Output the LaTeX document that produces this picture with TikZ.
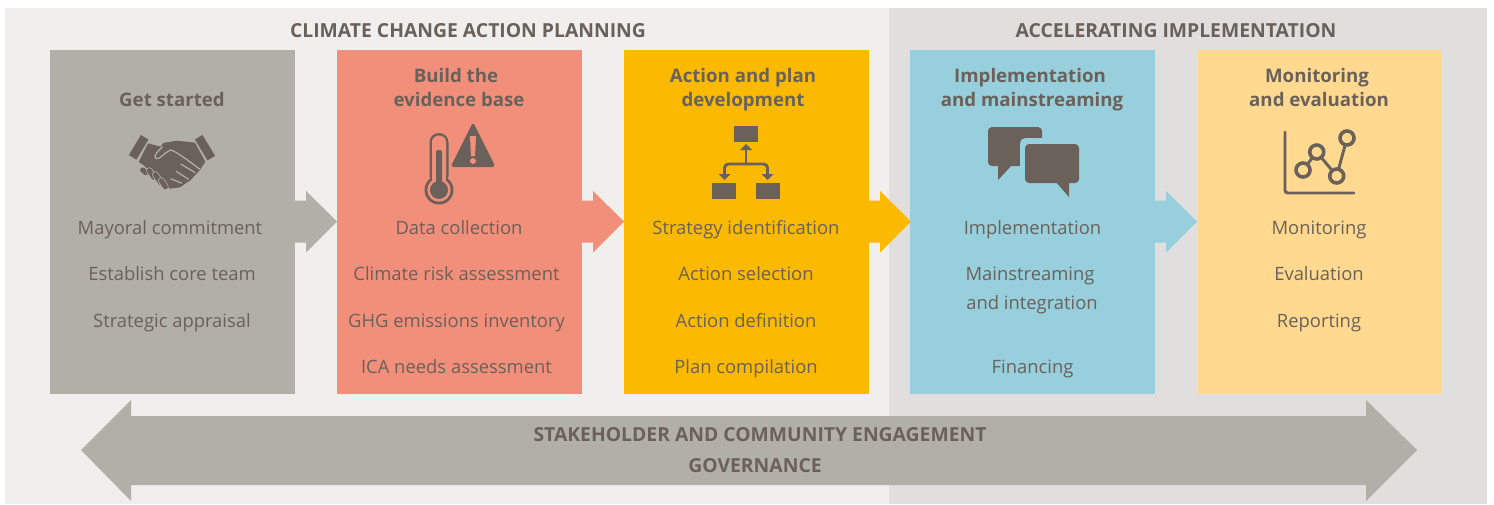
\documentclass[tikz,border=0pt]{standalone}
\usepackage{fontspec}
\setmainfont{Open Sans}
\definecolor{panelL}{HTML}{F0EFED}
\definecolor{panelR}{HTML}{E0DFDD}
\definecolor{ink}{HTML}{6A615A}
\definecolor{stone}{HTML}{B2AFA8}
\definecolor{salmon}{HTML}{F28F7B}
\definecolor{amber}{HTML}{FBB900}
\definecolor{sky}{HTML}{98CFDD}
\definecolor{sand}{HTML}{FFD98F}
\tikzset{
 px/.style={x=0.75pt,y=-0.75pt},
 headtext/.style={text=ink,font=\fontsize{14}{18}\selectfont\bfseries,align=center,inner sep=0pt,anchor=base},
 banner/.style={text=ink,font=\fontsize{14.5}{22.5}\selectfont\bfseries,align=center,inner sep=0pt,anchor=base},
 item/.style={text=ink,font=\fontsize{13.8}{16}\selectfont,align=center,inner sep=0pt,anchor=base},
 icon/.style={fill=ink,draw=none},
 iconline/.style={draw=ink,line width=2.2pt,fill=none}
}
\newcommand{\stagearrow}[2]{\fill[#2] (#1,200.5) -- (#1+11,200.5) -- (#1+11,191) -- (#1+42,221.5) -- (#1+11,252.5) -- (#1+11,242.5) -- (#1,242.5) -- cycle;}
\begin{document}
\begin{tikzpicture}[px]
\useasboundingbox (0,0) rectangle (1494,504);
\fill[panelL] (5,8) rectangle (889,504);
\fill[panelR] (889,8) rectangle (1487,504);
% stage arrows
\stagearrow{295}{stone}
\stagearrow{582}{salmon}
\stagearrow{869}{amber}
\stagearrow{1155}{sky}
% boxes
\fill[stone] (50,50) rectangle (295,394);
\fill[salmon] (337,50) rectangle (582,394);
\fill[amber] (624,50) rectangle (869,394);
\fill[sky] (910,50) rectangle (1155,394);
\fill[sand] (1198,50) rectangle (1442,394);
% banners
\node[banner] (t1) at (468,37) {CLIMATE CHANGE ACTION PLANNING};
\node[banner] (t2) at (1176,37) {ACCELERATING IMPLEMENTATION};
% headings
\node[headtext] (h1) at (172,106) {Get started};
\node[headtext] (h2a) at (456,82) {Build the};
\node[headtext] (h2b) at (459,106) {evidence base};
\node[headtext] (h3a) at (743,82) {Action and plan};
\node[headtext] (h3b) at (743,106) {development};
\node[headtext] (h4a) at (1030,82) {Implementation};
\node[headtext] (h4b) at (1032,106) {and mainstreaming};
\node[headtext] (h5a) at (1317,82) {Monitoring};
\node[headtext] (h5b) at (1319,106) {and evaluation};
% items
\foreach \n/\x/\y/\t in {a/170/234/Mayoral commitment,b/172/280/Establish core team,c/172/327/Strategic appraisal,
 d/459/234/Data collection,e/456.5/280/Climate risk assessment,f/456.5/327/GHG emissions inventory,g/456.5/373/ICA needs assessment,
 i/746/234/Strategy identification,j/746/280/Action selection,k/746/327/Action definition,l/746/373/Plan compilation,
 m/1032.5/234/Implementation,n/1030/280/Mainstreaming,o/1032/309/and integration,p/1032.5/373/Financing,
 q/1319/234/Monitoring,r/1319/280/Evaluation,s/1319/327/Reporting}
 \node[item] (\n) at (\x,\y) {\t};
% big arrow
\fill[stone] (81,450) -- (131,400) -- (131,416) -- (1366,416) -- (1366,400) -- (1417,450) -- (1366,501) -- (1366,485) -- (131,485) -- (131,501) -- cycle;
\node[banner] (e1) at (760,441) {STAKEHOLDER AND COMMUNITY ENGAGEMENT};
\node[banner] (e2) at (755,472) {GOVERNANCE};
% handshake icon (coordinates in thirds of a pixel)
\begin{scope}[shift={(120,120)},x=0.25pt,y=-0.25pt]
\fill[icon] (84,70) -- (122,80) -- (130,69) -- (170,62) -- (225,68) -- (256,125) -- (240,150) -- (212,180) -- (180,202) -- (150,206) -- (120,185) -- (70,135) -- (56,126) -- cycle;
\filldraw[fill=ink,draw=stone,line width=0.8pt] (62,42) -- (88,58) -- (50,122) -- (24,106) -- cycle;
\filldraw[fill=ink,draw=stone,line width=0.8pt] (248,42) -- (222,58) -- (262,124) -- (288,108) -- cycle;
\draw[stone,line width=0.9pt] (128,80) .. controls (115,92) and (98,108) .. (108,116) .. controls (120,120) and (135,95) .. (152,90) .. controls (165,92) and (210,125) .. (240,148);
\draw[stone,line width=0.9pt] (182,132) -- (226,158) (168,154) -- (206,178) (152,176) -- (186,190);
\foreach \xa/\ya/\xb/\yb in {68/150/78/158,88/152/102/172,106/164/122/188,124/182/136/200}{
 \draw[stone,line width=5pt,line cap=round] (\xa,\ya) -- (\xb,\yb);
 \draw[ink,line width=3.8pt,line cap=round] (\xa,\ya) -- (\xb,\yb);
}
\end{scope}
% thermometer
\fill[icon,rounded corners=7pt] (429.5,133) rectangle (448.5,185);
\fill[icon] (439,190) circle (14.5);
\fill[salmon,rounded corners=5pt] (432,135.5) rectangle (446,185);
\fill[salmon] (439,190) circle (11.7);
\fill[icon,rounded corners=1.5pt] (436,150) rectangle (442,185);
\fill[icon] (439,190) circle (9);
\fill[icon,rounded corners=2.5pt] (473,122) -- (450.5,167) -- (495.5,167) -- cycle;
\fill[salmon] (470,136) -- (476,136) -- (475,156) -- (471,156) -- cycle;
\fill[salmon] (473,161) circle (3);
% hierarchy icon
\fill[icon] (734,126) rectangle (758,142);
\fill[icon] (712,183) rectangle (736,199);
\fill[icon] (756,183) rectangle (780,199);
\draw[iconline,rounded corners=3pt] (724.5,175) -- (724.5,164) -- (767.5,164) -- (767.5,175);
\draw[iconline] (746,164) -- (746,149);
\fill[icon] (746,144) -- (740,150) -- (752,150) -- cycle;
\fill[icon] (724.5,180) -- (718.5,174) -- (730.5,174) -- cycle;
\fill[icon] (767.5,180) -- (761.5,174) -- (773.5,174) -- cycle;
% speech bubbles icon
\fill[icon,rounded corners=3pt] (988,127) rectangle (1042,166);
\fill[icon] (998,164) -- (998,180) -- (1013,164) -- cycle;
\fill[sky,rounded corners=4pt] (1020,138) rectangle (1050,175);
\fill[icon,rounded corners=3pt] (1025,144) rectangle (1079,183);
\fill[icon] (1055,181) -- (1069,197) -- (1069,181) -- cycle;
% chart icon
\draw[iconline,line cap=round,rounded corners=2pt] (1285,132) -- (1285,193) -- (1354,193);
\draw[iconline] (1303,170) -- (1316.7,152) -- (1336.7,176) -- (1347,138);
\foreach \cx/\cy in {1303/170,1316.7/152,1336.7/176,1347/138}
 \filldraw[draw=ink,fill=sand,line width=2.7pt] (\cx,\cy) circle (7);
\end{tikzpicture}
\end{document}
